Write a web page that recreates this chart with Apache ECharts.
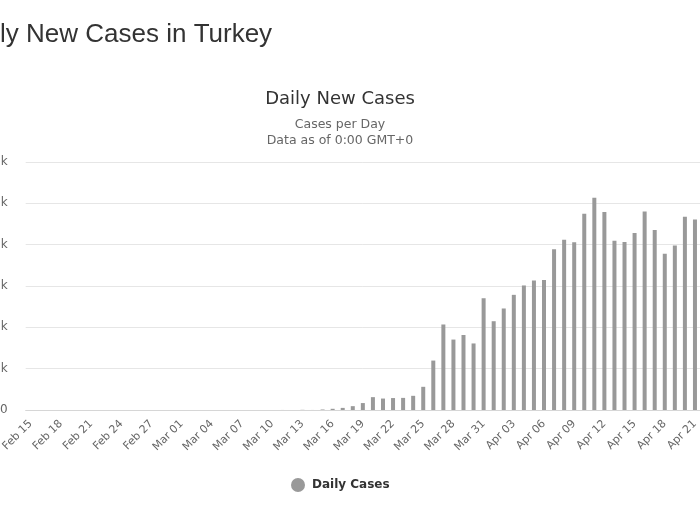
<!DOCTYPE html>
<html>
<head>
<meta charset="utf-8">
<script src="https://cdn.jsdelivr.net/npm/echarts@6/dist/echarts.min.js"></script>
<style>
html,body{margin:0;padding:0;background:#fff;}
#chart{width:700px;height:525px;}
</style>
</head>
<body>
<div id="chart"></div>
<script>
var categories = [
  "Feb 15","Feb 16","Feb 17","Feb 18","Feb 19","Feb 20","Feb 21","Feb 22","Feb 23","Feb 24",
  "Feb 25","Feb 26","Feb 27","Feb 28","Feb 29",
  "Mar 01","Mar 02","Mar 03","Mar 04","Mar 05","Mar 06","Mar 07","Mar 08","Mar 09","Mar 10",
  "Mar 11","Mar 12","Mar 13","Mar 14","Mar 15","Mar 16","Mar 17","Mar 18","Mar 19","Mar 20",
  "Mar 21","Mar 22","Mar 23","Mar 24","Mar 25","Mar 26","Mar 27","Mar 28","Mar 29","Mar 30","Mar 31",
  "Apr 01","Apr 02","Apr 03","Apr 04","Apr 05","Apr 06","Apr 07","Apr 08","Apr 09","Apr 10",
  "Apr 11","Apr 12","Apr 13","Apr 14","Apr 15","Apr 16","Apr 17","Apr 18","Apr 19","Apr 20","Apr 21"
];
var dailyCases = [
  0,0,0,0,0,0,0,0,0,0,
  0,0,0,0,0,
  0,0,0,0,0,0,0,0,0,0,
  1,0,4,1,12,29,51,93,168,311,
  277,289,293,343,561,1196,2069,1704,1815,1610,2704,
  2148,2456,2786,3013,3135,3148,3892,4117,4056,4747,
  5138,4789,4093,4062,4281,4801,4353,3783,3977,4674,4611
];
var yTicks = [0,1000,2000,3000,4000,5000,6000];
var pageTitle = "Daily New Cases in Turkey";
var chartTitle = "Daily New Cases";
var subtitleLines = ["Cases per Day", "Data as of 0:00 GMT+0"];
var seriesName = "Daily Cases";

var chart = echarts.init(document.getElementById('chart'), null, {renderer:'canvas'});
var font = '"DejaVu Sans", sans-serif';
chart.setOption({
  animation: false,
  backgroundColor: '#fff',
  graphic: [
    {type:'text', left:-39, top:22, style:{text:pageTitle, font:'26px "Liberation Sans", Arial, sans-serif', fill:'#333'}},
    {type:'text', x:340, y:99, style:{text:chartTitle, font:'18px "DejaVu Sans", sans-serif', fill:'#333', textAlign:'center', textVerticalAlign:'middle'}},
    {type:'text', x:340, y:124.5, style:{text:subtitleLines[0], font:'12.5px "DejaVu Sans", sans-serif', fill:'#666', textAlign:'center', textVerticalAlign:'middle'}},
    {type:'text', x:340, y:140.5, style:{text:subtitleLines[1], font:'12.5px "DejaVu Sans", sans-serif', fill:'#666', textAlign:'center', textVerticalAlign:'middle'}}
  ],
  legend: {
    data: [seriesName],
    left: 291, top: 478, padding: 0,
    icon: 'circle', itemWidth: 14, itemHeight: 14, itemGap: 10,
    textStyle: {fontFamily: font, fontSize: 12, fontWeight: 'bold', color: '#333', padding:[0,0,0,2]}
  },
  grid: {left: 25.7, right: 0, top: 162, bottom: 115, containLabel: false, outerBoundsMode: 'none'},
  xAxis: {
    type: 'category',
    data: categories,
    boundaryGap: true,
    axisLine: {show: true, lineStyle: {color: '#d6d6d6', width: 1}},
    axisTick: {show: false},
    axisLabel: {interval: 2, rotate: 45, margin: 12, color: '#666', fontFamily: font, fontSize: 11}
  },
  yAxis: {
    type: 'value',
    min: yTicks[0], max: yTicks[yTicks.length-1], interval: 1000,
    axisLine: {show: false},
    axisTick: {show: false},
    splitLine: {lineStyle: {color: '#e6e6e6', width: 1}},
    axisLabel: {margin: 18, color: '#666', fontFamily: font, fontSize: 12,
      formatter: function(v){ return v === 0 ? '0' : (v/1000) + 'k'; }}
  },
  series: [{
    name: seriesName,
    type: 'bar',
    data: dailyCases,
    barWidth: 4,
    itemStyle: {color: '#999999'}
  }]
});
</script>
</body>
</html>
